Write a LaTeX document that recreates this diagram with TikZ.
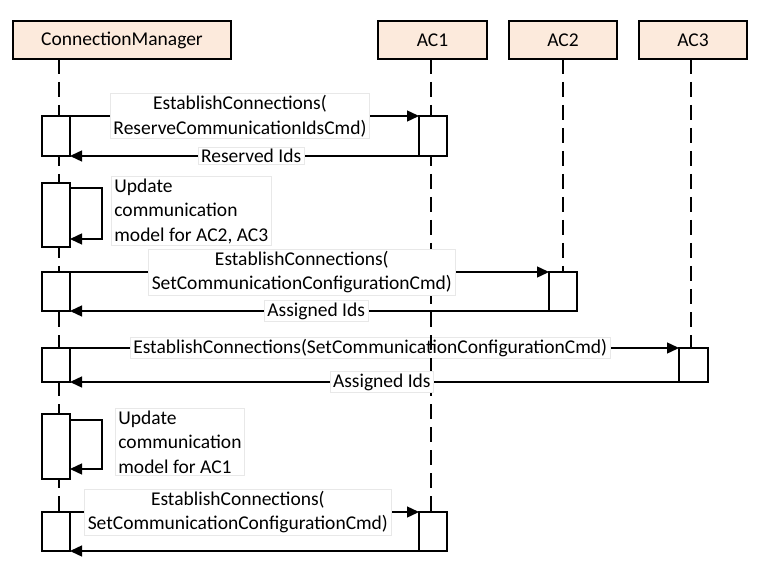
\documentclass[tikz,border=0pt]{standalone}
\usepackage{fontspec}
\setmainfont{Carlito}
\usetikzlibrary{arrows.meta}
\definecolor{headfill}{RGB}{252,234,220}
\definecolor{lblborder}{RGB}{232,232,232}
\pgfdeclarelayer{back}
\pgfsetlayers{back,main}
\begin{document}
\begin{tikzpicture}[x=1pt,y=-1pt,
  txt/.style={font=\fontsize{19.5}{24.5}\selectfont},
  head/.style={txt, draw, line width=1.4pt, fill=headfill, minimum height=38pt, inner sep=0pt, outer sep=0pt},
  lifeline/.style={line width=1.3pt, dash pattern=on 15pt off 8pt},
  act/.style={draw, line width=1.4pt, fill=white, minimum width=28pt, inner sep=0pt, outer sep=0pt},
  msg/.style={line width=1.4pt, -{Triangle[length=12pt,width=11pt]}},
  lbl/.style={txt, draw=lblborder, line width=0.8pt, fill=white, inner xsep=3pt, inner ysep=2pt, align=center},
  lbll/.style={lbl, align=left}
]
\useasboundingbox (0,0) rectangle (766,588);

% header boxes
\node[head, minimum width=218pt] (cm) at (122,40) {ConnectionManager};
\node[head, minimum width=109pt] (ac1) at (432.5,40) {AC1};
\node[head, minimum width=108pt] (ac2) at (563,40) {AC2};
\node[head, minimum width=108pt] (ac3) at (693,40) {AC3};

% lifeline end points
\coordinate (cmT) at (59,59);   \coordinate (cmB) at (59,551);
\coordinate (a1T) at (431,59);  \coordinate (a1B) at (431,551);
\coordinate (a2T) at (563,59);  \coordinate (a2B) at (563,272);
\coordinate (a3T) at (691,59);  \coordinate (a3B) at (691,348);

\draw[lifeline] (cmT) -- (cmB);
\draw[lifeline] (a1T) -- (a1B);
\draw[lifeline] (a2T) -- (a2B);
\draw[lifeline] (a3T) -- (a3B);

% activations
\node[act, minimum height=40pt] (cmA) at (56,136) {};
\node[act, minimum height=40pt] (acA) at (433,136) {};
\node[act, minimum height=64pt] (cmBx) at (56,215) {};
\node[act, minimum height=39pt] (cmC) at (56,291.5) {};
\node[act, minimum height=39pt] (acC) at (563,291.5) {};
\node[act, minimum height=34pt] (cmD) at (56,365) {};
\node[act, minimum height=34pt, minimum width=29pt] (acD) at (693.5,365) {};
\node[act, minimum height=65pt] (cmE) at (56,446.5) {};
\node[act, minimum height=39pt] (cmF) at (56,531.5) {};
\node[act, minimum height=39pt] (acF) at (433,531.5) {};

% message 1
\draw[msg] (cmA.north east) -- node[lbl, pos=0.487] (l1) {EstablishConnections(\\ReserveCommunicationIdsCmd)} (acA.north west);
\draw[msg] (acA.south west) -- node[lbl, pos=0.481] (l2) {Reserved Ids} (cmA.south east);

% self call 1
\draw[msg] ([yshift=-5pt]cmBx.north east) -- ++(32,0) |- ([yshift=8pt]cmBx.south east);
\node[lbll, anchor=west] (l3) at (111,211) {Update\\communication\\model for AC2, AC3};

% message 3
\draw[msg] (cmC.north east) -- node[lbl, pos=0.484] (l4) {EstablishConnections(\\SetCommunicationConfigurationCmd)} (acC.north west);
\draw[msg] (acC.south west) -- node[lbl, pos=0.486] (l5) {Assigned Ids} (cmC.south east);

% message 4 (label behind the AC1 lifeline)
\begin{pgfonlayer}{back}
\draw[msg] (cmD.north east) -- node[lbl, pos=0.493] (l6) {EstablishConnections(SetCommunicationConfigurationCmd)} (acD.north west);
\end{pgfonlayer}
\draw[msg] (acD.south west) -- node[lbl, pos=0.488] (l7) {Assigned Ids} (cmD.south east);

% self call 2
\draw[msg] ([yshift=-6pt]cmE.north east) -- ++(32,0) |- ([yshift=10pt]cmE.south east);
\node[lbll, anchor=west] (l8) at (115,442) {Update\\communication\\model for AC1};

% message 6
\draw[msg] (cmF.north east) -- node[lbl, pos=0.481] (l9) {EstablishConnections(\\SetCommunicationConfigurationCmd)} (acF.north west);
\draw[msg] (acF.south west) -- (cmF.south east);
\end{tikzpicture}
\end{document}
